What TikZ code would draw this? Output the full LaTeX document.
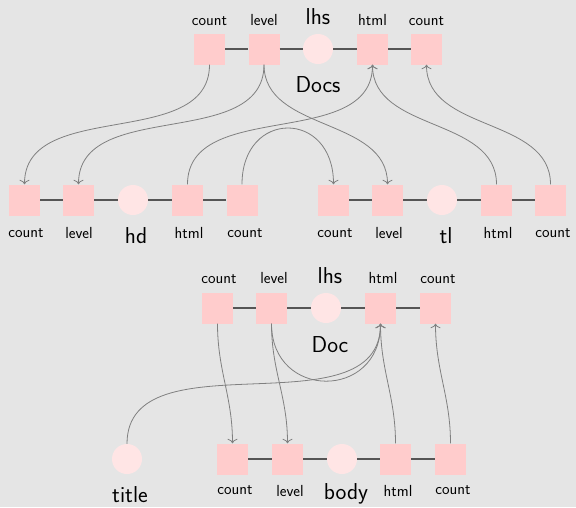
\documentclass[tikz,border=0pt]{standalone}
\usepackage{fontspec}
\usetikzlibrary{arrows.meta}
\begin{document}
\begin{tikzpicture}[x=1pt,y=-1pt,
  sq/.style={fill=sqpink,draw=none,minimum size=31pt,inner sep=0pt},
  circ/.style={circle,fill=cpink,draw=none,minimum size=30pt,inner sep=0pt},
  lbl/.style={anchor=base,inner sep=0pt,font=\sffamily\fontsize{16}{18}\selectfont,text=black},
  big/.style={anchor=base,inner sep=0pt,font=\sffamily\fontsize{23}{26}\selectfont,text=black},
  link/.style={draw=linkgray,line width=1.6pt},
  arr/.style={draw=arrgray,line width=0.8pt,-{To[length=4.5pt,width=10pt]}}]
\definecolor{sqpink}{HTML}{FFCCCC}
\definecolor{cpink}{HTML}{FFE5E5}
\definecolor{linkgray}{HTML}{555555}
\definecolor{arrgray}{HTML}{808080}
\definecolor{bg}{HTML}{E5E5E5}
\fill[bg] (0,0) rectangle (576,507);
\useasboundingbox (0,0) rectangle (576,507);
% Docs row
\node[sq] (a1) at (209.5,49) {};
\node[sq] (a2) at (264,49) {};
\node[circ] (a3) at (318,49) {};
\node[sq] (a4) at (372.5,49) {};
\node[sq] (a5) at (426.5,49) {};
% hd row
\node[sq] (b1) at (24.5,200) {};
\node[sq] (b2) at (78.5,200) {};
\node[circ] (b3) at (133,200) {};
\node[sq] (b4) at (187.5,200) {};
\node[sq] (b5) at (242,200) {};
% tl row
\node[sq] (c1) at (333.5,200) {};
\node[sq] (c2) at (387.5,200) {};
\node[circ] (c3) at (442,200) {};
\node[sq] (c4) at (496.5,200) {};
\node[sq] (c5) at (550.5,200) {};
% Doc row
\node[sq] (d1) at (217.5,308) {};
\node[sq] (d2) at (271.5,308) {};
\node[circ] (d3) at (326,308) {};
\node[sq] (d4) at (380.5,308) {};
\node[sq] (d5) at (435.5,308) {};
% body row
\node[circ] (t) at (127,459) {};
\node[sq] (e1) at (232.5,459) {};
\node[sq] (e2) at (287.5,459) {};
\node[circ] (e3) at (342,459) {};
\node[sq] (e4) at (395.5,459) {};
\node[sq] (e5) at (450.5,459) {};
% links
\foreach \p in {a,b,c,d,e}{
  \draw[link] (\p1) -- (\p2);
  \draw[link] (\p2) -- (\p3);
  \draw[link] (\p3) -- (\p4);
  \draw[link] (\p4) -- (\p5);
}
% labels Docs
\node[lbl] (la1) at (209.5,25) {count};
\node[lbl] (la2) at (264,25) {level};
\node[big] (la3) at (318,24) {lhs};
\node[lbl] (la4) at (372.5,25) {html};
\node[lbl] (la5) at (426.5,25) {count};
\node[big] (ldocs) at (318,92) {Docs};
% labels hd
\node[lbl] (lb1) at (26,237) {count};
\node[lbl] (lb2) at (79,238) {level};
\node[big] (lb3) at (136,243) {hd};
\node[lbl] (lb4) at (189,238) {html};
\node[lbl] (lb5) at (245,237) {count};
% labels tl
\node[lbl] (lc1) at (335,237) {count};
\node[lbl] (lc2) at (389,238) {level};
\node[big] (lc3) at (446,243) {tl};
\node[lbl] (lc4) at (498,238) {html};
\node[lbl] (lc5) at (553,237) {count};
% labels Doc
\node[lbl] (ld1) at (219,283) {count};
\node[lbl] (ld2) at (274,283) {level};
\node[big] (ld3) at (330,283) {lhs};
\node[lbl] (ld4) at (383,283) {html};
\node[lbl] (ld5) at (438,283) {count};
\node[big] (ldoc) at (330,352) {Doc};
% labels body
\node[big] (lt) at (130,502) {title};
\node[lbl] (le1) at (235,494) {count};
\node[lbl] (le2) at (290,496) {level};
\node[big] (le3) at (346,499) {body};
\node[lbl] (le4) at (398,496) {html};
\node[lbl] (le5) at (453,494) {count};
% arrows Docs
\draw[arr] (a1.south) to[out=-90,in=90] (b1.north);
\draw[arr] (a2.south) to[out=-90,in=90] (b2.north);
\draw[arr] (a2.south) to[out=-90,in=90] (c2.north);
\draw[arr] (b4.north) to[out=90,in=-90] (a4.south);
\draw[arr] (c4.north) to[out=90,in=-90] (a4.south);
\draw[arr] (c5.north) to[out=90,in=-90] (a5.south);
\draw[arr] (b5.north) to[out=90,in=90,looseness=2.1] (c1.north);
% arrows Doc
\draw[arr] (d1.south) to[out=-90,in=90] (e1.north);
\draw[arr] (d2.south) to[out=-90,in=90] (e2.north);
\draw[arr] (d2.south) to[out=-90,in=-90,looseness=1.8] (d4.south);
\draw[arr] (t.north) to[out=90,in=-90] (d4.south);
\draw[arr] (e4.north) to[out=90,in=-90] (d4.south);
\draw[arr] (e5.north) to[out=90,in=-90] (d5.south);
\end{tikzpicture}
\end{document}
